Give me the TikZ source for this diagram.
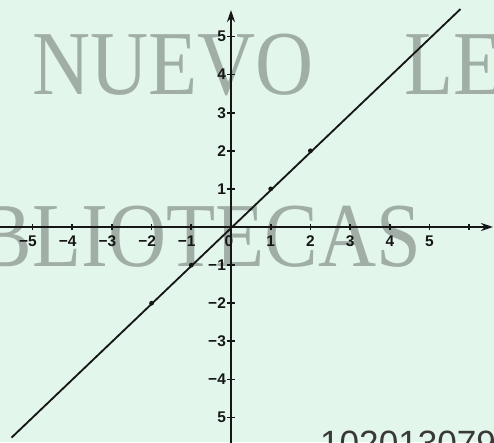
\documentclass[tikz,border=0pt]{standalone}
\usepackage{fontspec}
\newfontfamily\numfont{Liberation Sans}
\newfontfamily\markfont{Liberation Serif}
\usetikzlibrary{arrows.meta}
\definecolor{paper}{RGB}{226,246,236}
\definecolor{stamp}{RGB}{160,174,166}
\definecolor{ink}{RGB}{22,22,22}
\tikzset{
  >={Stealth[length=6mm,width=4mm]},
  axis/.style={line width=3.2pt,draw=ink},
  graph/.style={line width=2.6pt,draw=ink},
  tickmark/.style={line width=2.4pt,draw=ink},
  num/.style={font=\numfont\bfseries\fontsize{22}{22}\selectfont,text=ink,inner sep=0pt},
  dot/.style={circle,fill=ink,inner sep=0pt,minimum size=2.4mm},
  stamp/.style={font=\markfont\fontsize{130}{130}\selectfont,text=stamp,inner sep=0pt,
    xscale=0.88,anchor=base west},
  serial/.style={font=\numfont\fontsize{50}{50}\selectfont,text=ink!85,inner sep=0pt,
    anchor=base west},
}
\begin{document}
\begin{tikzpicture}[x=1.985cm,y=1.905cm]
  \path[use as bounding box] (-11.55cm,-10.75cm) rectangle (13.15cm,11.35cm);
  \clip (-11.55cm,-10.75cm) rectangle (13.15cm,11.35cm);
  \fill[paper] (-11.55cm,-10.75cm) rectangle (13.15cm,11.35cm);
  % watermark of the scan
  \node[stamp] (mark1) at (-9.95cm,6.65cm) {NUEVO\hskip1.13em LE};
  \node[stamp,anchor=base east] (mark2) at (9.5cm,-1.95cm) {BLIOTECAS};
  % axes
  \coordinate (xl) at (-11.7cm,0cm);
  \coordinate (xr) at (13.1cm,0cm);
  \coordinate (yb) at (0cm,-10.9cm);
  \coordinate (yt) at (0cm,10.85cm);
  \draw[axis,->] (xl) -- (xr);
  \draw[axis,->] (yb) -- (yt);
  \foreach \k in {-5,-4,-3,-2,-1,1,2,3,4,5,6}
    \draw[tickmark] (\k,0) ++(0cm,-0.16cm) -- ++(0cm,0.32cm);
  \foreach \k in {-5,-4,-3,-2,-1,1,2,3,4,5}
    \draw[tickmark] (0,\k) ++(-0.2cm,0cm) -- ++(0.4cm,0cm);
  % numbers
  \node[num,anchor=north,yshift=-0.45cm] (o) at (-0.05,0) {0};
  \foreach \k in {1,...,5}{
    \node[num,anchor=north,yshift=-0.45cm] (xp\k) at (\k,0) {\k};
    \node[num,anchor=north,yshift=-0.45cm] (xm\k) at (-\k,0) {\llap{−}\k};
    \node[num,anchor=east,xshift=-0.25cm] (yp\k) at (0,\k) {\k};
  }
  \foreach \k in {1,...,4}
    \node[num,anchor=east,xshift=-0.25cm] (ym\k) at (0,-\k) {−\k};
  \node[num,anchor=east,xshift=-0.25cm] (ym5) at (0,-5) {5};
  % the line y = x
  \coordinate (lo) at (-5.53,-5.53);
  \coordinate (hi) at (5.78,5.72);
  \draw[graph] (lo) -- (hi);
  \foreach \k/\n in {-2/a,-1/b,1/c,2/d}
    \node[dot] (pt\n) at (\k,\k) {};
  \node[serial] (code) at (4.45cm,-11.4cm) {102013079};
\end{tikzpicture}
\end{document}
